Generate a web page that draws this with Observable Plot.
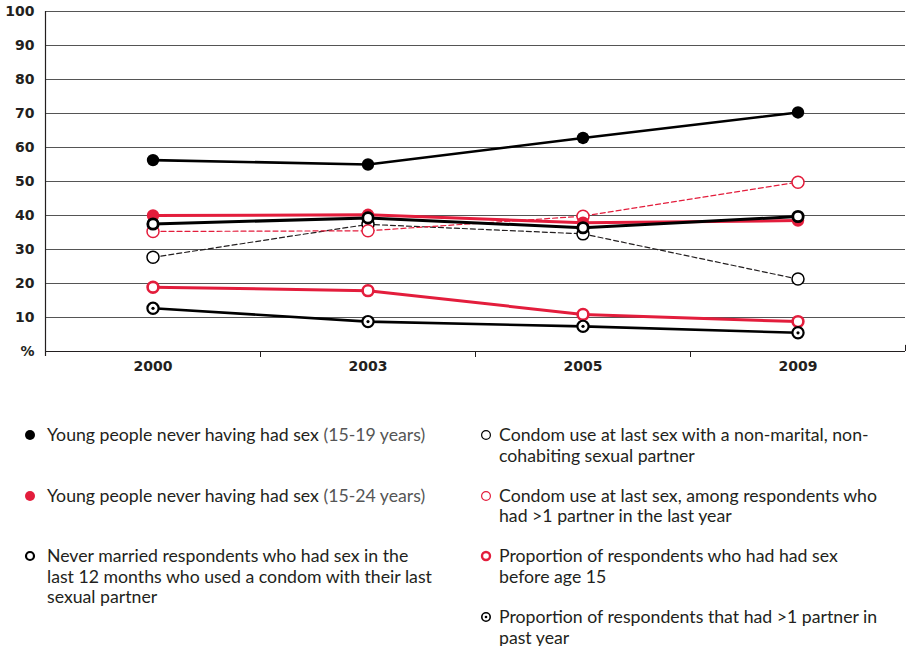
<!DOCTYPE html>
<html>
<head>
<meta charset="utf-8">
<script src="https://cdn.jsdelivr.net/npm/d3@7"></script>
<script src="https://cdn.jsdelivr.net/npm/@observablehq/plot@0.6"></script>
<style>
  html, body { margin: 0; padding: 0; background: #fff; }
  body { width: 910px; font-family: Lato, "Noto Sans", sans-serif; color: #231f20; }
  #chart svg { display: block; }
  #legend { display: flex; padding-top: 35px; }
  .col { display: flex; flex-direction: column; gap: 19.5px; }
  .col.left { width: 437px; padding-left: 24px; }
  .col.right { width: 430px; padding-left: 19px; }
  .item { display: flex; align-items: flex-start; min-height: 41px; font-size: 17.7px; line-height: 20.6px; white-space: nowrap; }
  .item svg { flex: none; margin-top: 4px; margin-right: 11px; }
  .col.right .item svg { margin-right: 7px; }
  .item .sub { color: #555; }
</style>
</head>
<body>
<div id="chart"></div>
<div id="legend"><div class="col left"></div><div class="col right"></div></div>
<script>
const years = ["2000", "2003", "2005", "2009"];
const youth1519 = [56.3, 55.0, 62.8, 70.3];
const youth1524 = [40.0, 40.2, 37.9, 38.5];
const neverMarried = [37.5, 39.3, 36.4, 39.7];
const nonMarital = [27.7, 37.4, 34.6, 21.3];
const multiCondom = [35.3, 35.5, 39.8, 49.8];
const before15 = [18.9, 17.9, 10.9, 8.8];
const multiPartner = [12.7, 8.8, 7.4, 5.5];
const yTicks = [0, 10, 20, 30, 40, 50, 60, 70, 80, 90, 100];

// legend labels: lines of text, plus an optional lighter suffix
const legendLabels = [
  [["Young people never having had sex"], " (15-19 years)"],
  [["Young people never having had sex"], " (15-24 years)"],
  [["Never married respondents who had sex in the", "last 12 months who used a condom with their last", "sexual partner"], ""],
  [["Condom use at last sex with a non-marital, non-", "cohabiting sexual partner"], ""],
  [["Condom use at last sex, among respondents who", "had >1 partner in the last year"], ""],
  [["Proportion of respondents who had had sex", "before age 15"], ""],
  [["Proportion of respondents that had >1 partner in", "past year"], ""]
];

const RED = "#e31d3c";
const rows = vals => vals.map((v, i) => ({i, v}));

const sA = rows(youth1519), sB = rows(youth1524), sC = rows(neverMarried),
      sD = rows(nonMarital), sE = rows(multiCondom), sF = rows(before15), sG = rows(multiPartner);

const tickFont = {fontSize: 14, fontWeight: "bold", fontFamily: "'DejaVu Sans', sans-serif"};

const chart = Plot.plot({
  width: 910,
  height: 390,
  marginLeft: 45,
  marginRight: 5,
  marginTop: 11,
  marginBottom: 39,
  style: {fontFamily: "Lato, 'Noto Sans', sans-serif", color: "#231f20"},
  x: {type: "linear", domain: [-0.5, 3.5], axis: null, label: null},
  y: {domain: [0, 100], axis: null, label: null},
  marks: [
    Plot.ruleY(yTicks.filter(d => d > 0), {stroke: "#555", strokeWidth: 1}),
    Plot.ruleY([0], {stroke: "#231f20", strokeWidth: 1}),
    Plot.ruleX([-0.5], {y1: -1.5, y2: 100, stroke: "#231f20", strokeWidth: 1.2}),
    Plot.ruleX([3.5], {y1: 0, y2: 1.8, stroke: "#231f20", strokeWidth: 1}),
    Plot.axisY({ticks: yTicks, tickSize: 0, tickPadding: 11, label: null, tickFormat: d => d === 0 ? "%" : d, ...tickFont}),
    Plot.axisX({ticks: [0, 1, 2, 3], tickSize: 0, tickPadding: 10, label: null, tickFormat: i => years[i], ...tickFont}),
    Plot.axisX({ticks: [0.5, 1.5, 2.5], tickSize: 6, label: null, tickFormat: () => "", stroke: "#231f20"}),

    Plot.line(sD, {x: "i", y: "v", stroke: "#231f20", strokeWidth: 1.2, strokeDasharray: "5,3"}),
    Plot.line(sE, {x: "i", y: "v", stroke: RED, strokeWidth: 1.2, strokeDasharray: "5,3"}),
    Plot.line(sB, {x: "i", y: "v", stroke: RED, strokeWidth: 3}),
    Plot.line(sC, {x: "i", y: "v", stroke: "#000", strokeWidth: 3}),
    Plot.line(sA, {x: "i", y: "v", stroke: "#000", strokeWidth: 2.6}),
    Plot.line(sF, {x: "i", y: "v", stroke: RED, strokeWidth: 3}),
    Plot.line(sG, {x: "i", y: "v", stroke: "#000", strokeWidth: 2.6}),

    Plot.dot(sD, {x: "i", y: "v", r: 6, fill: "#fff", stroke: "#000", strokeWidth: 1.5}),
    Plot.dot(sE, {x: "i", y: "v", r: 6, fill: "#fff", stroke: RED, strokeWidth: 1.5}),
    Plot.dot(sB, {x: "i", y: "v", r: 6.2, fill: RED, stroke: "none"}),
    Plot.dot(sC, {x: "i", y: "v", r: 5.2, fill: "#fff", stroke: "#000", strokeWidth: 2.8}),
    Plot.dot(sA, {x: "i", y: "v", r: 6.2, fill: "#000", stroke: "none"}),
    Plot.dot(sF, {x: "i", y: "v", r: 5.4, fill: "#fff", stroke: RED, strokeWidth: 2.6}),
    Plot.dot(sG, {x: "i", y: "v", r: 5.6, fill: "#fff", stroke: "#000", strokeWidth: 2.2}),
    Plot.dot(sG, {x: "i", y: "v", r: 1.6, fill: "#000", stroke: "none"})
  ]
});
document.getElementById("chart").appendChild(chart);

// legend markers
const markers = [
  `<circle cx="6" cy="6" r="5" fill="#000"/>`,
  `<circle cx="6" cy="6" r="5" fill="${RED}"/>`,
  `<circle cx="6" cy="6" r="4" fill="#fff" stroke="#000" stroke-width="2.2"/>`,
  `<circle cx="6" cy="6" r="4.4" fill="#fff" stroke="#000" stroke-width="1.2"/>`,
  `<circle cx="6" cy="6" r="4.4" fill="#fff" stroke="${RED}" stroke-width="1.2"/>`,
  `<circle cx="6" cy="6" r="4" fill="#fff" stroke="${RED}" stroke-width="2.4"/>`,
  `<circle cx="6" cy="6" r="4.2" fill="#fff" stroke="#000" stroke-width="1.6"/><circle cx="6" cy="6" r="1.3" fill="#000"/>`
];
const esc = s => s.replace(/&/g, "&amp;").replace(/</g, "&lt;").replace(/>/g, "&gt;");
const left = document.querySelector(".col.left"), right = document.querySelector(".col.right");
legendLabels.forEach(([lines, sub], k) => {
  const el = document.createElement("div");
  el.className = "item";
  el.innerHTML = `<svg width="12" height="12">${markers[k]}</svg><span>${lines.map(esc).join("<br>")}${sub ? `<span class="sub">${esc(sub)}</span>` : ""}</span>`;
  (k < 3 ? left : right).appendChild(el);
});
</script>
</body>
</html>
